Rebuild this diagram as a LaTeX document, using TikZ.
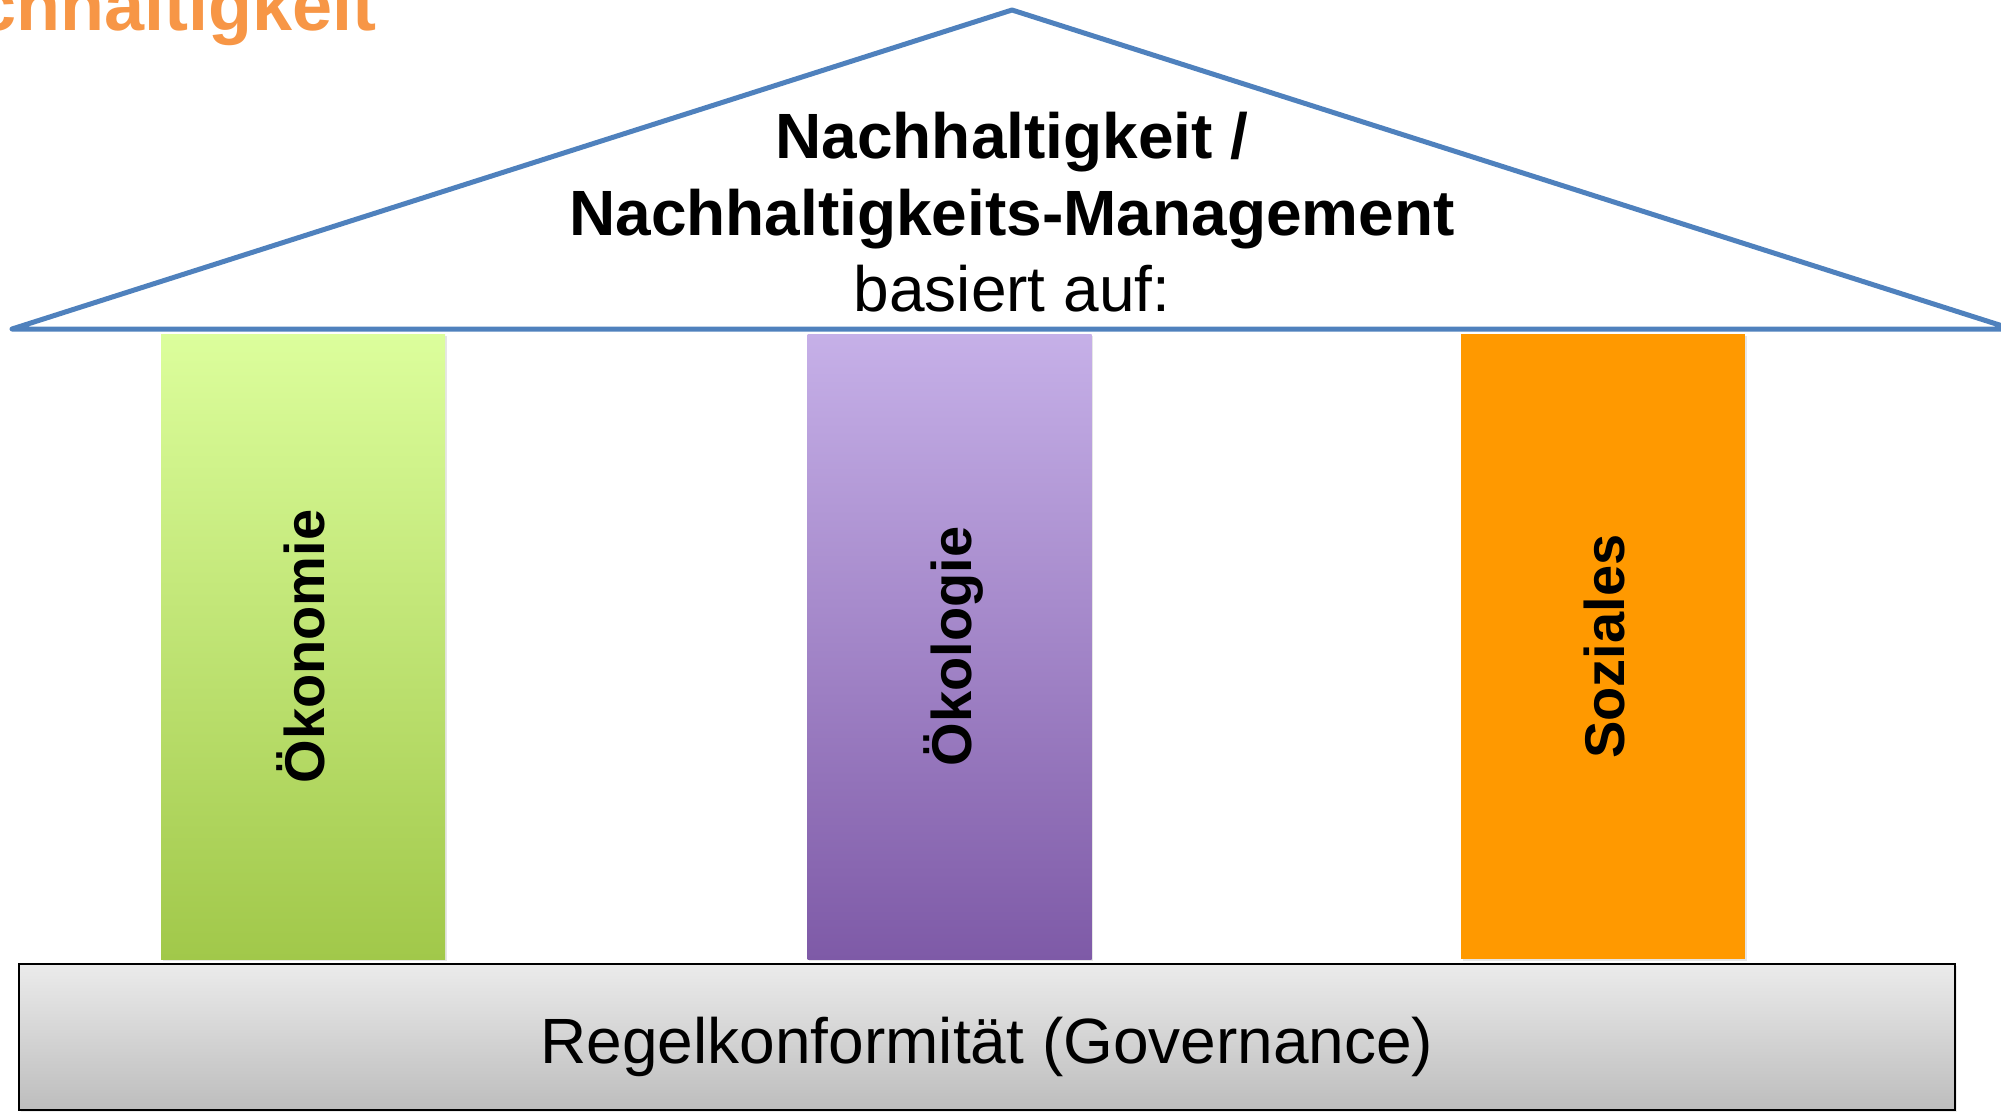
\documentclass[tikz,border=0pt]{standalone}
\usepackage{fontspec}
\setmainfont{Liberation Sans}
\usetikzlibrary{shadows}

\definecolor{roofblue}{RGB}{79,129,189}
\definecolor{titleorange}{RGB}{247,150,70}
\definecolor{oekotop}{RGB}{220,254,156}
\definecolor{oekobottom}{RGB}{161,200,74}
\definecolor{logietop}{RGB}{198,176,232}
\definecolor{logiebottom}{RGB}{126,90,167}
\definecolor{sozorange}{RGB}{255,153,0}
\definecolor{basetop}{RGB}{235,235,235}
\definecolor{basebottom}{RGB}{189,189,189}

\tikzset{
  pillar/.style={inner sep=0pt, minimum width=284pt, minimum height=625pt,
    drop shadow={shadow xshift=1.5pt, shadow yshift=-2pt, opacity=0.2}},
  pillartext/.style={rotate=90, anchor=base, inner sep=0pt,
    font=\fontsize{56}{67}\selectfont\bfseries},
  rooftext/.style={anchor=base, inner sep=0pt, font=\fontsize{64}{77}\selectfont},
}

\begin{document}
\begin{tikzpicture}[x=1pt,y=-1pt]
    \useasboundingbox (0,0) rectangle (2001,1112);
    \clip (0,0) rectangle (2001,1112);

    % slide title, cut at the page edge
    \node[anchor=base east, inner sep=0pt, text=titleorange,
      font=\fontsize{72}{86}\selectfont\bfseries] (title) at (377,30) {Nachhaltigkeit};

    % roof
    \coordinate (eaveL) at (12,329);
    \coordinate (apex) at (1012,10);
    \coordinate (eaveR) at (2012,329);
    \draw[roofblue, line width=5pt, line join=round, line cap=round] (eaveL) -- (apex) -- (eaveR) -- cycle;
    \node[rooftext, font=\fontsize{64}{77}\selectfont\bfseries] (roof1) at (1012,158) {Nachhaltigkeit /};
    \node[rooftext, font=\fontsize{64}{77}\selectfont\bfseries] (roof2) at (1012,235) {Nachhaltigkeits-Management};
    \node[rooftext] (roof3) at (1012,311) {basiert auf:};

    % pillars
    \node[pillar, top color=oekotop, bottom color=oekobottom] (oekonomie) at (303,646.5) {};
    \node[pillar, top color=logietop, bottom color=logiebottom] (oekologie) at (949.5,646.5) {};
    \node[pillar, fill=sozorange] (soziales) at (1603,646.5) {};
    \node[pillartext] (oekonomie-text) at ([xshift=21.5pt]oekonomie.center) {Ökonomie};
    \node[pillartext] (oekologie-text) at ([xshift=21.5pt]oekologie.center) {Ökologie};
    \node[pillartext] (soziales-text) at ([xshift=21.5pt]soziales.center) {Soziales};

    % foundation
    \node[draw=black, line width=2pt, inner sep=0pt, minimum width=1936pt, minimum height=146pt,
      top color=basetop, bottom color=basebottom,
      drop shadow={shadow xshift=2pt, shadow yshift=-2pt, opacity=0.15}] (governance) at (987,1037) {};
    \node[rooftext] (governance-text) at (987,1063) {Regelkonformität (Governance)};
\end{tikzpicture}
\end{document}
